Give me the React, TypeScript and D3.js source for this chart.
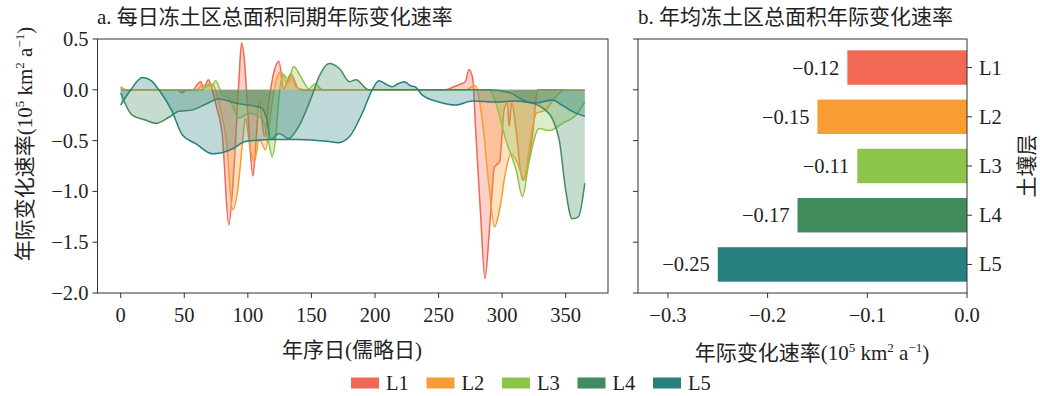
import React, { useEffect } from "react";
import * as d3 from "d3";

// soil layers and their mean annual rate (panel b)
const layers = ["L1", "L2", "L3", "L4", "L5"];
const meanRates = [-0.12, -0.15, -0.11, -0.17, -0.25];
const palette = ["#f16854", "#f89d33", "#8dc54b", "#428b5d", "#27807e"];

// panel a: daily rate (day of year, 1e5 km2/a)
const l1Days = [0, 45, 48, 52, 57, 60, 63, 65, 69, 72, 75, 80, 85, 89, 93, 95, 97, 100, 104, 106, 109, 113, 117, 121, 124.5, 128, 134, 138, 143, 255, 262, 266, 271, 274, 277, 279, 283, 286.5, 290, 294, 298, 301.5, 304, 305.5, 307.5, 311, 316, 319, 324, 328, 365];
const l1Vals = [0, 0, -0.03, 0, 0, 0.05, 0.08, 0.01, 0.1, 0, -0.15, -0.46, -1.33, -0.79, 0.1, 0.46, 0.33, -0.23, -0.85, -0.59, -0.12, -0.46, -0.07, 0.2, 0.28, 0.01, 0.16, 0.03, 0, 0, 0.03, 0.05, 0.08, 0.2, 0.1, -0.36, -1.22, -1.86, -1.38, -0.76, -0.71, -0.2, -0.13, -0.36, -0.13, -0.4, -0.89, -0.82, -0.43, 0, 0];

const l2Days = [0, 4, 60, 64, 68, 71, 74, 78, 83, 88, 92, 96, 98, 102, 105, 109, 114, 118, 122, 126, 131, 135, 140, 145, 272, 276, 279, 284, 290, 294, 298, 303, 307, 312, 317.5, 321, 327, 334, 342, 350, 365];
const l2Vals = [0.02, 0, 0, 0.05, 0.03, 0.06, 0.02, -0.17, -0.49, -1.18, -0.99, -0.49, -0.28, -0.59, -0.71, -0.49, -0.59, -0.23, 0.08, 0.18, 0.06, 0.13, 0.01, 0, 0, 0.03, 0.04, -0.26, -0.99, -1.35, -1.18, -0.79, -0.63, -0.72, -0.89, -0.59, -0.23, -0.2, -0.07, 0, 0];

const l3Days = [0, 5, 64, 69.5, 72, 74.7, 80, 85, 93, 101, 111, 116.6, 119, 122, 124.5, 128, 132, 136, 141.6, 148, 153, 158.6, 290, 295, 303, 311, 316, 321, 329, 337, 347.6, 358, 365];
const l3Vals = [0.03, 0, 0, 0.06, 0.04, 0.09, -0.05, -0.08, -0.28, -0.23, -0.28, -0.53, -0.66, -0.46, -0.07, 0.15, 0.1, 0.23, 0.13, 0.01, 0.06, 0, 0, -0.13, -0.5, -0.79, -1.05, -0.72, -0.38, -0.4, -0.33, -0.25, -0.12];

const l4Days = [0, 9, 20, 27.5, 38, 46, 56, 67, 77, 90, 111, 115, 118, 124.5, 132, 140, 151, 156, 164, 172, 180, 185, 195, 290, 306, 316, 332, 340, 345, 350, 355, 360, 365];
const l4Vals = [-0.03, -0.25, -0.3, -0.33, -0.27, -0.21, -0.2, -0.14, -0.09, -0.13, -0.18, -0.3, -0.49, -0.43, -0.48, -0.36, -0.04, 0.13, 0.26, 0.21, 0.08, 0.1, 0, 0, -0.03, -0.1, -0.18, -0.3, -0.5, -0.99, -1.27, -1.25, -0.92];

const l5Days = [0, 8, 17, 24, 30, 40, 48.5, 59, 72, 77, 88, 98, 119, 140, 164, 171, 180, 190, 197.8, 203, 208, 213.6, 218, 223, 228, 232, 237, 250, 263.5, 276.6, 295, 310.7, 326, 339.5, 347, 357.9, 365];
const l5Vals = [-0.15, 0.0, 0.12, 0.09, 0, -0.2, -0.445, -0.53, -0.63, -0.625, -0.58, -0.51, -0.49, -0.49, -0.51, -0.52, -0.46, -0.23, 0, 0.09, 0.06, 0.03, 0.06, 0.08, 0.04, 0.025, -0.05, -0.12, -0.15, -0.11, -0.12, -0.11, -0.13, -0.1, -0.15, -0.23, -0.26];

const dayTicks = [0, 50, 100, 150, 200, 250, 300, 350];
const rateTicks = [0.5, 0, -0.5, -1.0, -1.5, -2.0];
const meanTicks = [-0.3, -0.2, -0.1, 0.0];

const series = [
  { days: l1Days, vals: l1Vals },
  { days: l2Days, vals: l2Vals },
  { days: l3Days, vals: l3Vals },
  { days: l4Days, vals: l4Vals },
  { days: l5Days, vals: l5Vals },
];

const FONT = "'Liberation Serif', 'Noto Sans CJK SC', serif";
const AX = "#333";

const fmt1 = (v: number) => d3.format(".1f")(v);

function UnitLabel(props: any) {
  return (
    <text {...props}>
      年际变化速率(10
      <tspan dy={-8} fontSize={13}>5</tspan>
      <tspan dy={8}> km</tspan>
      <tspan dy={-8} fontSize={13}>2</tspan>
      <tspan dy={8}> a</tspan>
      <tspan dy={-8} fontSize={13}>−1</tspan>
      <tspan dy={8}>)</tspan>
    </text>
  );
}

export default function App() {
  useEffect(() => {
    document.body.style.margin = "0";
  }, []);

  // panel a scales
  const x = d3.scaleLinear().domain([-18.25, 383.25]).range([97.5, 608]);
  const y = d3.scaleLinear().domain([-2, 0.5]).range([293, 39]);

  // panel b scales
  const xb = d3.scaleLinear().domain([-0.33, 0]).range([638, 967]);
  const yb = d3.scaleBand().domain(layers).range([39, 293]).paddingInner(0.3).paddingOuter(0.23);

  const area = d3
    .area<[number, number]>()
    .x((d) => x(d[0]))
    .y0(y(0))
    .y1((d) => y(d[1]))
    .curve(d3.curveMonotoneX);
  const line = d3
    .line<[number, number]>()
    .x((d) => x(d[0]))
    .y((d) => y(d[1]))
    .curve(d3.curveMonotoneX);

  const legendX = d3.scaleLinear().domain([0, 4]).range([351, 653]);

  return (
    <svg width={1040} height={396} style={{ display: "block", fontFamily: FONT }}>
      <rect width={1040} height={396} fill="#fff" />

      {/* ---------- panel a ---------- */}
      <text x={97} y={24} fontSize={21} fill="#222">a. 每日冻土区总面积同期年际变化速率</text>
      <defs>
        <clipPath id="clipA">
          <rect x={97.5} y={39} width={510.5} height={254} />
        </clipPath>
      </defs>
      <g clipPath="url(#clipA)">
        {series.map((s, i) => {
          const pts = s.days.map((d, j) => [d, s.vals[j]] as [number, number]);
          return (
            <g key={i}>
              <path d={area(pts) || ""} fill={palette[i]} fillOpacity={0.3} />
              <path d={line(pts) || ""} fill="none" stroke={palette[i]} strokeWidth={1.5} />
            </g>
          );
        })}
      </g>
      <rect x={97.5} y={39} width={510.5} height={254} fill="none" stroke={AX} strokeWidth={1} />
      {dayTicks.map((t) => (
        <g key={t} transform={`translate(${x(t)},293)`}>
          <line y2={5} stroke={AX} />
          <text y={22} textAnchor="middle" dominantBaseline="central" fontSize={20.5} fill="#222">{t}</text>
        </g>
      ))}
      {rateTicks.map((t) => (
        <g key={t} transform={`translate(97.5,${y(t)})`}>
          <line x2={-5} stroke={AX} />
          <text x={-9} textAnchor="end" dominantBaseline="central" fontSize={20.5} fill="#222">{fmt1(t)}</text>
        </g>
      ))}
      <text x={352} y={350} textAnchor="middle" dominantBaseline="central" fontSize={21} fill="#222">年序日(儒略日)</text>
      <UnitLabel transform="translate(32,144) rotate(-90)" textAnchor="middle" fontSize={21} fill="#222" />

      {/* ---------- panel b ---------- */}
      <text x={638} y={24} fontSize={21} fill="#222">b. 年均冻土区总面积年际变化速率</text>
      {layers.map((l, i) => (
        <g key={l}>
          <rect
            x={xb(meanRates[i])}
            y={yb(l)}
            width={xb(0) - xb(meanRates[i])}
            height={yb.bandwidth()}
            fill={palette[i]}
          />
          <text
            x={xb(meanRates[i]) - 8}
            y={(yb(l) || 0) + yb.bandwidth() / 2}
            textAnchor="end"
            dominantBaseline="central"
            fontSize={20.5}
            fill="#222"
          >
            {d3.format(".2f")(meanRates[i])}
          </text>
        </g>
      ))}
      <rect x={638} y={39} width={329} height={254} fill="none" stroke={AX} strokeWidth={1} />
      {rateTicks.map((t) => (
        <line key={t} x1={638} x2={633} y1={y(t)} y2={y(t)} stroke={AX} />
      ))}
      {meanTicks.map((t) => (
        <g key={t} transform={`translate(${xb(t)},293)`}>
          <line y2={5} stroke={AX} />
          <text y={22} textAnchor="middle" dominantBaseline="central" fontSize={20.5} fill="#222">{fmt1(t)}</text>
        </g>
      ))}
      {layers.map((l) => (
        <g key={l} transform={`translate(967,${(yb(l) || 0) + yb.bandwidth() / 2})`}>
          <line x2={5} stroke={AX} />
          <text x={12} dominantBaseline="central" fontSize={20.5} fill="#222">{l}</text>
        </g>
      ))}
      <text
        transform="translate(1027,166) rotate(-90)"
        textAnchor="middle"
        dominantBaseline="central"
        fontSize={21}
        fill="#222"
      >
        土壤层
      </text>
      <UnitLabel x={812} y={360} textAnchor="middle" fontSize={21} fill="#222" />

      {/* ---------- legend ---------- */}
      {layers.map((l, i) => (
        <g key={l} transform={`translate(${legendX(i)},383)`}>
          <rect x={0} y={-5.5} width={28} height={11} fill={palette[i]} />
          <text x={35} dominantBaseline="central" fontSize={20.5} fill="#222">{l}</text>
        </g>
      ))}
    </svg>
  );
}
